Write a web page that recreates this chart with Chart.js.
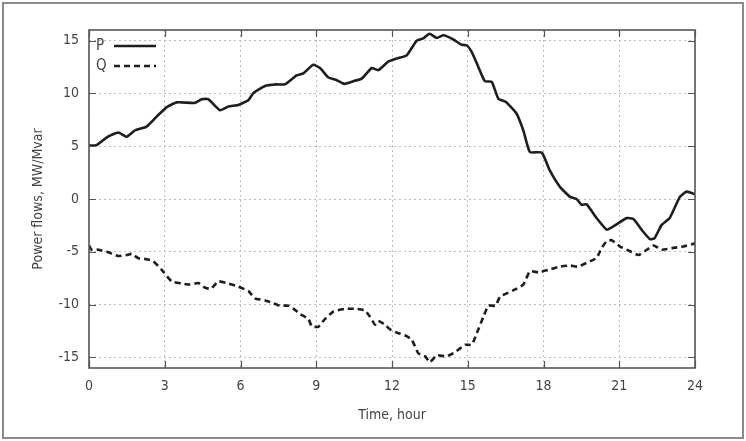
<!DOCTYPE html>
<html>
<head>
<meta charset="utf-8">
<script src="https://cdn.jsdelivr.net/npm/chart.js@4.4.1/dist/chart.umd.min.js"></script>
<style>
  html, body { margin: 0; padding: 0; background: #fff; }
  #wrap { position: relative; width: 746px; height: 441px; }
  #chart { position: absolute; left: 0; top: 0; }
</style>
</head>
<body>
<div id="wrap"><canvas id="chart" width="746" height="441"></canvas></div>
<script>
// Eixos
const xTicks = [0, 3, 6, 9, 12, 15, 18, 21, 24];
const yTicks = [-15, -10, -5, 0, 5, 10, 15];

// Série P (potência ativa)
const pHours = [0, 0.3, 0.75, 1.16, 1.49, 1.82, 2.28, 2.68, 3.08, 3.47, 4.2, 4.46, 4.72, 5.19, 5.52, 5.91, 6.31, 6.5, 6.97, 7.43, 7.76, 8.22, 8.49, 8.88, 9.15, 9.48, 9.81, 10.1, 10.47, 10.8, 11.2, 11.46, 11.85, 12.19, 12.58, 12.98, 13.24, 13.48, 13.77, 14.04, 14.43, 14.76, 14.96, 15.16, 15.42, 15.68, 15.95, 16.21, 16.5, 16.93, 17.2, 17.46, 17.93, 18.25, 18.65, 19.05, 19.31, 19.51, 19.71, 20.1, 20.5, 20.76, 21.3, 21.56, 21.95, 22.22, 22.4, 22.68, 23.0, 23.4, 23.67, 24];
const pValues = [5.05, 5.1, 5.9, 6.3, 5.9, 6.5, 6.85, 7.8, 8.7, 9.15, 9.1, 9.45, 9.45, 8.4, 8.75, 8.9, 9.35, 10.0, 10.7, 10.85, 10.85, 11.7, 11.9, 12.7, 12.4, 11.5, 11.25, 10.9, 11.15, 11.4, 12.4, 12.2, 13.0, 13.3, 13.6, 15.0, 15.2, 15.65, 15.25, 15.5, 15.1, 14.6, 14.55, 13.9, 12.5, 11.15, 11.1, 9.5, 9.2, 8.1, 6.5, 4.45, 4.4, 2.7, 1.15, 0.2, 0.0, -0.55, -0.5, -1.8, -2.9, -2.6, -1.8, -1.9, -3.1, -3.8, -3.7, -2.45, -1.8, 0.2, 0.7, 0.45];

// Série Q (potência reativa)
const qHours = [0, 0.1, 0.37, 0.77, 1.16, 1.49, 1.69, 1.95, 2.28, 2.55, 2.88, 3.27, 3.67, 4.0, 4.33, 4.6, 4.83, 5.12, 5.52, 5.91, 6.31, 6.57, 6.97, 7.23, 7.56, 7.9, 8.16, 8.36, 8.69, 8.82, 9.08, 9.35, 9.68, 10.14, 10.6, 10.93, 11.13, 11.33, 11.46, 11.72, 11.92, 12.19, 12.51, 12.78, 13.04, 13.31, 13.5, 13.77, 14.16, 14.5, 14.9, 15.16, 15.36, 15.62, 15.82, 16.1, 16.28, 16.8, 17.2, 17.46, 17.8, 18.19, 18.65, 19.05, 19.37, 19.84, 20.1, 20.3, 20.5, 20.7, 21.03, 21.43, 21.76, 22.1, 22.36, 22.68, 23.08, 23.54, 24];
const qValues = [-4.4, -4.8, -4.8, -5.05, -5.4, -5.3, -5.2, -5.6, -5.7, -5.9, -6.7, -7.8, -8.0, -8.1, -7.95, -8.4, -8.5, -7.8, -8.0, -8.3, -8.7, -9.4, -9.6, -9.8, -10.1, -10.1, -10.5, -10.9, -11.35, -12.05, -12.1, -11.35, -10.65, -10.4, -10.4, -10.55, -11.15, -11.9, -11.55, -11.9, -12.35, -12.65, -12.9, -13.3, -14.6, -14.9, -15.45, -14.8, -14.9, -14.5, -13.8, -13.8, -12.7, -11.15, -10.1, -10.1, -9.25, -8.65, -8.1, -6.85, -6.95, -6.7, -6.4, -6.3, -6.4, -5.9, -5.6, -4.65, -4.0, -3.9, -4.5, -4.95, -5.3, -4.8, -4.4, -4.8, -4.65, -4.5, -4.2];

const FONT = "'DejaVu Sans Condensed', 'DejaVu Sans', sans-serif";
const TEXT = '#444';
const FRAME = '#555';

function toPoints(xs, ys) {
    return xs.map((x, i) => ({ x: x, y: ys[i] }));
}

// Moldura, ticks internos (estilo gnuplot) e legenda
const gnuplotStyle = {
    id: 'gnuplotStyle',
    beforeDraw(chart) {
        const ctx = chart.ctx;
        ctx.save();
        ctx.strokeStyle = '#8a8a8a';
        ctx.lineWidth = 2;
        ctx.strokeRect(3, 3, 740, 435);
        ctx.restore();
    },
    afterDatasetsDraw(chart) {
        const { ctx, chartArea: a, scales } = chart;
        const len = 7;
        ctx.save();
        ctx.strokeStyle = FRAME;
        ctx.lineWidth = 1.2;
        ctx.beginPath();
        xTicks.forEach(v => {
            const px = Math.round(scales.x.getPixelForValue(v)) + 0.5;
            ctx.moveTo(px, a.bottom); ctx.lineTo(px, a.bottom - len);
            ctx.moveTo(px, a.top); ctx.lineTo(px, a.top + len);
        });
        yTicks.forEach(v => {
            const py = Math.round(scales.y.getPixelForValue(v)) + 0.5;
            ctx.moveTo(a.left, py); ctx.lineTo(a.left + len, py);
            ctx.moveTo(a.right, py); ctx.lineTo(a.right - len, py);
        });
        ctx.stroke();
        ctx.lineWidth = 1.6;
        ctx.strokeRect(a.left, a.top, a.right - a.left, a.bottom - a.top);

        // legenda
        ctx.font = '15px ' + FONT;
        ctx.textBaseline = 'middle';
        ctx.textAlign = 'left';
        chart.data.datasets.forEach((ds, i) => {
            const y = a.top + 16 + i * 20;
            ctx.fillStyle = TEXT;
            ctx.fillText(ds.label, a.left + 7, y);
            ctx.strokeStyle = ds.borderColor;
            ctx.lineWidth = ds.borderWidth;
            ctx.setLineDash(ds.borderDash || []);
            ctx.beginPath();
            ctx.moveTo(a.left + 25, y);
            ctx.lineTo(a.left + 67, y);
            ctx.stroke();
            ctx.setLineDash([]);
        });
        ctx.restore();
    }
};

const gridOpts = { color: '#bdbdbd', drawTicks: false, lineWidth: 1 };

const ctx = document.getElementById('chart').getContext('2d');
new Chart(ctx, {
    type: 'line',
    data: {
        datasets: [
            {
                label: 'P',
                data: toPoints(pHours, pValues),
                borderColor: '#1e1e1e',
                borderWidth: 2.6,
                pointRadius: 0,
                tension: 0.15
            },
            {
                label: 'Q',
                data: toPoints(qHours, qValues),
                borderColor: '#1e1e1e',
                borderWidth: 2.6,
                borderDash: [6, 4],
                pointRadius: 0,
                tension: 0.15
            }
        ]
    },
    options: {
        responsive: false,
        animation: false,
        layout: { padding: { left: 0, top: 30, right: 51, bottom: 0 } },
        plugins: { legend: { display: false }, tooltip: { enabled: false } },
        scales: {
            x: {
                type: 'linear',
                min: 0,
                max: 24,
                afterBuildTicks: s => { s.ticks = xTicks.map(v => ({ value: v })); },
                afterFit: s => { s.height = 73; },
                grid: gridOpts,
                border: { display: false, dash: [2, 3] },
                ticks: { padding: 10, color: TEXT, font: { family: FONT, size: 14 }, maxRotation: 0 },
                title: { display: true, text: 'Time, hour', color: TEXT, font: { family: FONT, size: 14 }, padding: { top: 0, bottom: 17 } }
            },
            y: {
                min: -16,
                max: 16,
                afterBuildTicks: s => { s.ticks = yTicks.map(v => ({ value: v })); },
                afterFit: s => { s.width = 89; },
                grid: gridOpts,
                border: { display: false, dash: [2, 3] },
                ticks: { padding: 10, color: TEXT, font: { family: FONT, size: 14 } },
                title: { display: true, text: 'Power flows, MW/Mvar', color: TEXT, font: { family: FONT, size: 14 }, padding: { top: 30, bottom: 0 } }
            }
        }
    },
    plugins: [gnuplotStyle]
});
</script>
</body>
</html>
